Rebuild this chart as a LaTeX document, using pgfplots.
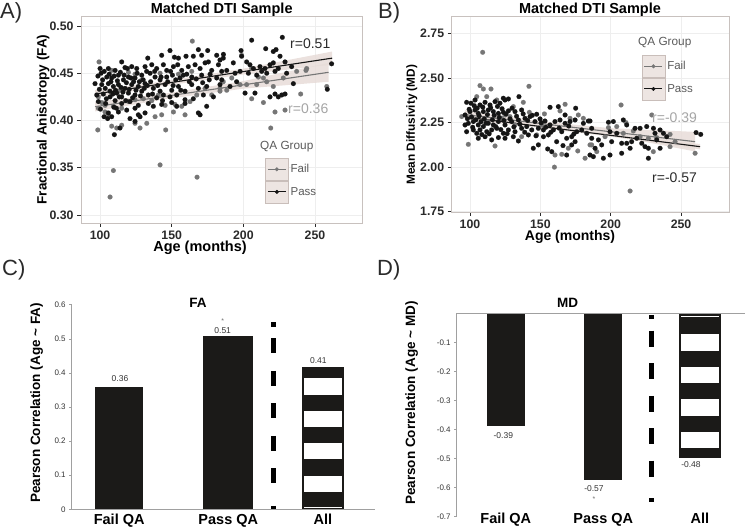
\documentclass[border=0pt]{standalone}
\usepackage{pgfplots}
\pgfplotsset{compat=1.18}
\usepackage{pgfplotstable}
\usepgfplotslibrary{fillbetween}
\usepackage{fontspec}
\setmainfont{Liberation Sans}

\definecolor{passc}{HTML}{151515}
\definecolor{failc}{HTML}{767676}
\definecolor{bandc}{HTML}{E7DCD8}
\definecolor{legbg}{HTML}{EDE5E2}
\definecolor{legfr}{HTML}{C9BEBA}
\definecolor{framec}{HTML}{C8C1BE}
\definecolor{gridc}{HTML}{EEEEEE}
\definecolor{tickc}{HTML}{2A2A2A}
\definecolor{rgray}{HTML}{A5A5A5}
\definecolor{legtxt}{HTML}{5A5A5A}
\definecolor{barc}{HTML}{1B1A18}
\definecolor{axc}{HTML}{A0A0A0}
\definecolor{lblc}{HTML}{333333}

\pgfplotsset{
 scat/.style={scale only axis, axis line style={framec, line width=0.8pt},
  tick style={tickc, line width=0.7pt}, tick align=outside, major tick length=4pt,
  xtick pos=left, ytick pos=left, grid=major, major grid style={gridc, line width=0.7pt},
  tick label style={font=\fontsize{12.3}{14}\selectfont\bfseries, text=tickc},
  /pgf/number format/assume math mode=true,
  xlabel style={font=\fontsize{14.5}{16}\selectfont\bfseries, text=black, anchor=base},
  ylabel style={font=\fontsize{13.5}{15}\selectfont\bfseries, text=black, anchor=center},
  legend cell align=left,
  legend style={draw=none, fill=none, inner sep=0pt, outer sep=0pt, row sep=0pt,
    font=\fontsize{11.5}{13}\selectfont, text=legtxt, anchor=north west,
    nodes={inner sep=2pt}},
 },
 pts/.style={only marks, color=#1, mark=*, mark size=2.4pt, mark options={solid, draw=#1, fill=#1, line width=0.1pt}, forget plot},
 failkey/.style={legend image code/.code={
   \draw[legfr, fill=legbg, line width=0.6pt] (0pt,-11pt) rectangle (23pt,11pt);
   \draw[failc, line width=1pt] (2.5pt,0pt) -- (20.5pt,0pt);
   \fill[failc] (11.5pt,0pt) circle (1.8pt);}},
 passkey/.style={legend image code/.code={
   \draw[legfr, fill=legbg, line width=0.6pt] (0pt,-11pt) rectangle (23pt,11pt);
   \draw[passc, line width=1pt] (2.5pt,0pt) -- (20.5pt,0pt);
   \fill[passc] (11.5pt,0pt) circle (1.8pt);}},
 bars/.style={scale only axis, axis x line*=bottom, axis y line*=left,
   axis line style={axc, line width=0.8pt},
   x tick style={draw=none}, y tick style={axc, line width=0.6pt},
   tick align=outside, major tick length=2.5pt,
   yticklabel style={font=\fontsize{8}{9}\selectfont, text=lblc},
   xticklabel style={font=\fontsize{14.5}{16}\selectfont\bfseries, anchor=base},
   ylabel style={font=\fontsize{13.5}{15}\selectfont\bfseries, anchor=center},
 },
}

% ---------------- Panel A data: Age (months), FA ----------------
\pgfplotstableread{
m v
115.1 0.462
133.3 0.466
143.0 0.469
148.8 0.474
151.9 0.467
154.7 0.466
160.0 0.468
168.6 0.475
165.1 0.468
170.9 0.469
175.1 0.474
175.6 0.462
181.4 0.469
183.7 0.464
186.1 0.470
100.0 0.455
105.8 0.455
110.5 0.453
117.4 0.456
122.1 0.457
125.6 0.455
131.4 0.457
136.1 0.459
139.5 0.455
144.2 0.459
146.5 0.453
151.2 0.457
154.2 0.459
157.0 0.453
161.6 0.457
166.3 0.459
169.8 0.455
173.3 0.461
177.9 0.453
182.6 0.459
100.7 0.450
104.7 0.446
108.1 0.445
112.8 0.448
116.3 0.443
119.8 0.446
124.4 0.445
129.1 0.448
134.9 0.450
138.4 0.446
141.9 0.443
146.5 0.446
150.5 0.448
155.8 0.445
160.5 0.449
164.0 0.446
170.9 0.448
176.8 0.449
181.4 0.445
184.9 0.452
96.5 0.439
101.2 0.438
105.8 0.439
109.3 0.436
112.8 0.438
117.4 0.434
122.1 0.438
126.7 0.436
131.4 0.439
137.2 0.434
141.9 0.431
145.4 0.438
150.0 0.432
154.7 0.436
159.3 0.431
164.0 0.438
168.6 0.434
174.4 0.436
179.1 0.425
183.7 0.438
97.7 0.427
102.3 0.428
107.0 0.425
111.6 0.429
115.1 0.425
119.8 0.429
124.4 0.427
129.1 0.431
133.7 0.427
139.5 0.424
144.2 0.427
148.8 0.425
153.5 0.427
159.3 0.422
165.1 0.423
172.1 0.427
98.8 0.420
103.9 0.418
110.5 0.421
115.1 0.418
120.9 0.420
126.7 0.416
133.7 0.418
137.2 0.415
143.0 0.417
150.0 0.419
153.5 0.415
159.3 0.418
174.4 0.415
105.8 0.408
108.1 0.404
112.8 0.409
118.6 0.411
124.4 0.413
126.7 0.406
131.4 0.408
168.6 0.408
169.8 0.406
105.3 0.402
110.0 0.385
113.9 0.392
120.9 0.402
124.4 0.399
127.9 0.404
98.5 0.447
99.5 0.433
101.8 0.443
102.9 0.452
103.6 0.434
104.4 0.423
106.4 0.449
106.9 0.431
107.6 0.441
108.9 0.428
109.8 0.447
110.8 0.432
111.4 0.413
112.1 0.442
113.4 0.425
114.2 0.451
114.6 0.435
116.0 0.430
116.8 0.448
117.9 0.421
118.4 0.440
119.1 0.455
120.3 0.433
121.5 0.445
122.7 0.424
123.4 0.441
125.1 0.432
125.9 0.450
127.4 0.441
128.2 0.426
130.1 0.443
130.9 0.434
132.5 0.452
133.0 0.437
135.3 0.441
136.6 0.428
138.1 0.452
140.2 0.437
142.6 0.446
143.6 0.421
147.2 0.441
149.2 0.452
151.0 0.437
152.8 0.443
156.3 0.432
158.1 0.448
162.3 0.441
167.1 0.444
171.6 0.440
176.2 0.443
100.3 0.412
102.8 0.404
109.7 0.414
205.8 0.485
227.2 0.488
198.4 0.474
215.6 0.476
222.8 0.475
225.6 0.468
220.9 0.473
186.0 0.466
193.0 0.461
198.8 0.468
202.3 0.462
204.6 0.459
207.0 0.455
211.6 0.457
215.1 0.455
218.6 0.459
220.9 0.461
224.4 0.455
229.1 0.462
233.7 0.457
188.4 0.453
194.2 0.450
197.7 0.452
203.5 0.450
209.3 0.448
212.8 0.452
216.3 0.450
222.1 0.452
230.2 0.450
234.9 0.439
201.2 0.429
208.1 0.429
218.6 0.425
222.1 0.428
224.4 0.425
226.8 0.427
229.1 0.428
261.6 0.460
258.6 0.433
184.9 0.443
190.7 0.436
195.3 0.441
}\apass

\pgfplotstableread{
m v
99.3 0.462
108.1 0.453
119.8 0.451
124.4 0.449
129.1 0.443
141.9 0.450
154.7 0.449
164.0 0.452
98.8 0.413
103.5 0.416
109.3 0.415
115.1 0.413
119.8 0.420
124.4 0.422
130.2 0.423
136.1 0.421
140.7 0.427
145.4 0.416
152.3 0.417
157.0 0.415
162.8 0.420
167.5 0.427
173.3 0.434
177.9 0.427
183.7 0.431
112.8 0.431
98.8 0.425
103.5 0.409
105.8 0.406
108.1 0.394
111.6 0.392
115.1 0.395
124.4 0.397
127.9 0.392
132.6 0.397
138.4 0.404
143.0 0.406
159.3 0.406
98.4 0.390
109.3 0.347
107.0 0.319
141.9 0.353
167.7 0.340
145.8 0.390
164.4 0.484
151.2 0.409
101.2 0.419
198.8 0.469
210.5 0.446
205.8 0.455
214.0 0.445
191.9 0.445
202.3 0.438
197.7 0.438
209.3 0.438
216.3 0.441
220.9 0.436
227.9 0.445
237.2 0.452
243.7 0.453
205.8 0.423
214.0 0.419
222.1 0.409
219.1 0.392
240.0 0.428
188.4 0.432
183.7 0.434
258.2 0.436
244.2 0.455
186.0 0.441
229.1 0.411
}\afail

% ---------------- Panel B data: Age (months), MD ----------------
\pgfplotstableread{
m v
97.6 2.364
100.7 2.359
103.6 2.377
107.1 2.349
110.7 2.364
114.2 2.349
117.8 2.368
121.3 2.359
124.9 2.377
127.3 2.383
123.7 2.387
134.8 2.396
96.5 2.293
100.0 2.312
103.6 2.321
105.9 2.302
109.5 2.312
113.0 2.321
116.6 2.312
120.2 2.302
123.7 2.308
127.3 2.316
132.0 2.312
136.7 2.321
96.5 2.237
98.8 2.246
102.4 2.256
105.9 2.237
109.5 2.228
113.0 2.246
116.6 2.237
120.2 2.256
124.9 2.237
129.6 2.256
134.4 2.265
139.1 2.274
142.7 2.284
146.2 2.256
149.8 2.271
153.3 2.259
147.4 2.297
97.6 2.199
102.4 2.209
104.8 2.190
107.1 2.209
111.9 2.199
115.4 2.209
119.0 2.218
123.7 2.190
127.3 2.209
132.0 2.199
136.7 2.218
140.3 2.228
143.9 2.209
148.6 2.218
152.2 2.209
156.9 2.237
160.4 2.256
164.0 2.265
167.6 2.246
171.1 2.256
174.7 2.265
180.6 2.246
184.1 2.259
105.9 2.162
110.7 2.171
115.4 2.153
120.2 2.166
124.9 2.162
130.8 2.171
134.4 2.147
141.5 2.181
145.0 2.106
148.6 2.125
152.2 2.171
155.7 2.181
159.3 2.209
161.6 2.143
165.2 2.199
168.7 2.162
172.3 2.171
175.9 2.199
179.4 2.209
183.0 2.190
186.5 2.218
174.7 2.143
172.3 2.125
155.2 2.102
158.1 2.087
168.7 2.068
187.7 2.059
156.9 2.336
162.8 2.340
175.1 2.331
167.6 2.293
98.2 2.272
99.4 2.325
101.1 2.281
101.9 2.224
103.0 2.345
104.2 2.266
105.1 2.331
106.5 2.288
107.8 2.255
108.4 2.183
109.1 2.337
110.2 2.271
111.3 2.246
112.4 2.295
113.6 2.187
114.7 2.333
115.9 2.266
117.2 2.291
118.3 2.228
119.5 2.341
120.8 2.279
121.9 2.211
122.8 2.328
124.1 2.262
125.6 2.299
126.4 2.188
128.5 2.271
129.9 2.331
131.2 2.226
133.1 2.286
135.5 2.241
137.8 2.299
138.9 2.196
141.0 2.262
144.3 2.291
146.9 2.176
150.6 2.249
153.9 2.224
157.4 2.196
163.4 2.219
166.1 2.121
170.2 2.231
173.8 2.186
185.3 2.259
198.4 2.252
201.9 2.256
209.0 2.265
211.4 2.237
217.3 2.218
220.9 2.218
225.6 2.228
230.4 2.218
235.1 2.209
237.5 2.190
231.5 2.190
199.5 2.199
204.3 2.190
207.8 2.134
211.4 2.134
214.9 2.143
218.5 2.162
222.1 2.134
224.4 2.115
232.7 2.153
239.8 2.171
186.5 2.162
191.3 2.153
193.6 2.125
200.7 2.143
194.8 2.050
199.5 2.068
207.8 2.078
213.8 2.106
226.8 2.050
260.7 2.194
264.0 2.184
185.3 2.068
188.9 2.106
226.8 2.106
235.1 2.106
}\bpass

\pgfplotstableread{
m v
109.0 2.645
107.1 2.458
109.5 2.439
114.9 2.439
141.9 2.454
104.8 2.396
111.9 2.396
119.0 2.377
130.8 2.340
137.9 2.364
142.2 2.308
128.4 2.284
122.5 2.274
101.2 2.284
94.1 2.284
98.8 2.128
117.8 2.119
152.9 2.299
164.0 2.316
167.6 2.353
171.1 2.274
177.0 2.293
180.6 2.274
160.4 2.068
165.2 2.072
160.0 2.000
169.9 2.106
176.6 2.091
181.8 2.050
185.3 2.125
111.9 2.256
132.0 2.237
147.4 2.181
151.0 2.237
136.7 2.171
124.9 2.293
207.4 2.349
210.9 2.250
229.2 2.293
198.4 2.222
209.0 2.190
216.1 2.203
226.8 2.162
232.7 2.166
242.2 2.115
260.0 2.078
213.8 1.866
242.2 2.184
190.1 2.087
186.5 2.125
196.0 2.171
220.9 2.171
204.3 2.228
245.8 2.143
230.3 2.087
}\bfail

\begin{document}
\begin{tikzpicture}[x=1pt,y=1pt]

% ================= Panel A =================
\begin{axis}[scat, at={(81pt,304pt)}, anchor=south west, width=281pt, height=207pt,
  xmin=86.7, xmax=282.8, ymin=0.2915, ymax=0.5106,
  xtick={100,150,200,250}, ytick={0.30,0.35,0.40,0.45,0.50},
  yticklabel style={/pgf/number format/.cd, fixed, fixed zerofill, precision=2},
  xlabel={Age (months)}, xlabel style={at={(axis description cs:0.4235,-0.140)}},
  ylabel={Fractional Anisotropy (FA)}, ylabel style={at={(axis description cs:-0.135,0.5)}},
  legend style={at={(0.655,0.314)}},
]
\addplot[pts=failc] table[x=m,y=v]{\afail};
\addplot[pts=passc] table[x=m,y=v]{\apass};
\addplot[name path=apu, draw=none, forget plot] coordinates {(96.5,0.432)(140,0.4405)(200,0.4549)(262,0.473)};
\addplot[name path=apl, draw=none, forget plot] coordinates {(96.5,0.424)(140,0.4355)(200,0.4487)(262,0.459)};
\addplot[bandc, fill opacity=0.85, forget plot] fill between[of=apu and apl];
\addplot[name path=afu, draw=none, forget plot] coordinates {(96.5,0.4196)(145,0.4284)(200,0.4417)(259.5,0.461)};
\addplot[name path=afl, draw=none, forget plot] coordinates {(96.5,0.4096)(145,0.4224)(200,0.4337)(259.5,0.441)};
\addplot[bandc, fill opacity=0.85, forget plot] fill between[of=afu and afl];
\addplot[failc, line width=1.1pt, forget plot] coordinates {(96.5,0.4146)(259.5,0.451)};
\addplot[passc, line width=1.1pt, forget plot] coordinates {(96.5,0.428)(262,0.466)};
\addlegendimage{failkey}\addlegendentry{Fail}
\addlegendimage{passkey}\addlegendentry{Pass}
\end{axis}

% ================= Panel B =================
\begin{axis}[scat, at={(451.7pt,315pt)}, anchor=south west, width=277.3pt, height=196pt,
  xmin=87.0, xmax=284.1, ymin=1.748, ymax=2.849,
  xtick={100,150,200,250}, ytick={1.75,2.00,2.25,2.50,2.75},
  yticklabel style={/pgf/number format/.cd, fixed, fixed zerofill, precision=2},
  xlabel={Age (months)}, xlabel style={at={(axis description cs:0.4266,-0.145)}, font=\fontsize{14}{16}\selectfont\bfseries},
  ylabel={Mean Diffusivity (MD)}, ylabel style={at={(axis description cs:-0.144,0.445)}, font=\fontsize{11.8}{13}\selectfont\bfseries},
  legend style={at={(0.685,0.801)}},
]
\addplot[pts=failc] table[x=m,y=v]{\bfail};
\addplot[pts=passc] table[x=m,y=v]{\bpass};
\addplot[name path=bfu, draw=none, forget plot] coordinates {(96.4,2.320)(150,2.257)(200,2.219)(260,2.198)};
\addplot[name path=bfl, draw=none, forget plot] coordinates {(96.4,2.270)(150,2.233)(200,2.179)(260,2.088)};
\addplot[bandc, fill opacity=0.85, forget plot] fill between[of=bfu and bfl];
\addplot[name path=bpu, draw=none, forget plot] coordinates {(96.4,2.297)(150,2.236)(200,2.187)(263.5,2.130)};
\addplot[name path=bpl, draw=none, forget plot] coordinates {(96.4,2.267)(150,2.220)(200,2.171)(263.5,2.100)};
\addplot[bandc, fill opacity=0.85, forget plot] fill between[of=bpu and bpl];
\addplot[failc, line width=1.1pt, forget plot] coordinates {(96.4,2.295)(260,2.143)};
\addplot[passc, line width=1.1pt, forget plot] coordinates {(96.4,2.282)(263.5,2.115)};
\addlegendimage{failkey}\addlegendentry{Fail}
\addlegendimage{passkey}\addlegendentry{Pass}
\end{axis}

% ================= Panel C =================
\begin{axis}[bars, at={(71.7pt,17.7pt)}, anchor=south west, width=303.3pt, height=204.6pt,
  xmin=71.7, xmax=375, ymin=0, ymax=0.6,
  ytick={0,0.1,0.2,0.3,0.4,0.5,0.6}, yticklabels={0,0.1,0.2,0.3,0.4,0.5,0.6},
  xtick={119.2,228.3,323}, xticklabels={Fail QA,Pass QA,All},
  xticklabel style={yshift=-12.5pt},
  ylabel={Pearson Correlation (Age \textasciitilde{} FA)},
  ylabel style={at={(axis description cs:-0.1154,0.52)}},
  clip=false,
]
\addplot[ybar, bar width=48.3, bar shift=0pt, fill=barc, draw=none, forget plot] coordinates {(119.2,0.36)};
\addplot[ybar, bar width=50, bar shift=0pt, fill=barc, draw=none, forget plot] coordinates {(228.3,0.509)};
\addplot[ybar, bar width=42.6, bar shift=0pt, fill=barc, draw=none, forget plot] coordinates {(323,0.418)};
\addplot[fill=white, draw=none, forget plot] coordinates {(304.3,0.3843)(342.3,0.3843)(342.3,0.3353)(304.3,0.3353)};
\addplot[fill=white, draw=none, forget plot] coordinates {(304.3,0.2892)(342.3,0.2892)(342.3,0.2423)(304.3,0.2423)};
\addplot[fill=white, draw=none, forget plot] coordinates {(304.3,0.1936)(342.3,0.1936)(342.3,0.1467)(304.3,0.1467)};
\addplot[fill=white, draw=none, forget plot] coordinates {(304.3,0.0986)(342.3,0.0986)(342.3,0.0516)(304.3,0.0516)};
\addplot[fill=white, draw=none, forget plot] coordinates {(304.3,0.0058)(342.3,0.0058)(342.3,0.0028)(304.3,0.0028)};
\addplot[black, line width=4.8pt, unbounded coords=jump, forget plot] coordinates {
 (273.3,0.5486)(273.3,0.5356)(273.3,nan)
 (273.3,0.5016)(273.3,0.4576)(273.3,nan)
 (273.3,0.4057)(273.3,0.3617)(273.3,nan)
 (273.3,0.3109)(273.3,0.2669)(273.3,nan)
 (273.3,0.2150)(273.3,0.1710)(273.3,nan)
 (273.3,0.1203)(273.3,0.0763)(273.3,nan)
 (273.3,0.0097)(273.3,0.0)};
\node[font=\fontsize{8.5}{9}\selectfont, text=lblc] at (axis cs:120,0.384) {0.36};
\node[font=\fontsize{8.5}{9}\selectfont, text=lblc] at (axis cs:222.7,0.523) {0.51};
\node[font=\fontsize{7}{8}\selectfont, text=lblc!70] at (axis cs:222.7,0.552) {*};
\node[font=\fontsize{8.5}{9}\selectfont, text=lblc] at (axis cs:318.3,0.436) {0.41};
\end{axis}

% ================= Panel D =================
\begin{axis}[bars, at={(456.7pt,10.3pt)}, anchor=south west, width=288.3pt, height=203.4pt,
  xmin=456.7, xmax=745, ymin=-0.7, ymax=0,
  x axis line style={draw=none},
  ytick={-0.7,-0.6,-0.5,-0.4,-0.3,-0.2,-0.1}, yticklabels={-0.7,-0.6,-0.5,-0.4,-0.3,-0.2,-0.1},
  xtick={505.8,603.3,700}, xticklabels={Fail QA,Pass QA,All},
  xticklabel style={yshift=-4.3pt},
  ylabel={Pearson Correlation (Age \textasciitilde{} MD)},
  ylabel style={at={(axis description cs:-0.156,0.559)}},
  clip=false,
]
\addplot[ybar, bar width=38.3, bar shift=0pt, fill=barc, draw=none, forget plot] coordinates {(505.8,-0.388)};
\addplot[ybar, bar width=38, bar shift=0pt, fill=barc, draw=none, forget plot] coordinates {(603.3,-0.574)};
\addplot[ybar, bar width=42, bar shift=0pt, fill=barc, draw=none, forget plot] coordinates {(700,-0.497)};
\addplot[fill=white, draw=none, forget plot] coordinates {(681,-0.0103)(719,-0.0103)(719,-0.0133)(681,-0.0133)};
\addplot[fill=white, draw=none, forget plot] coordinates {(681,-0.0723)(719,-0.0723)(719,-0.1297)(681,-0.1297)};
\addplot[fill=white, draw=none, forget plot] coordinates {(681,-0.1838)(719,-0.1838)(719,-0.2409)(681,-0.2409)};
\addplot[fill=white, draw=none, forget plot] coordinates {(681,-0.2949)(719,-0.2949)(719,-0.3524)(681,-0.3524)};
\addplot[fill=white, draw=none, forget plot] coordinates {(681,-0.4074)(719,-0.4074)(719,-0.4646)(681,-0.4646)};
\addplot[black, line width=4.8pt, unbounded coords=jump, forget plot] coordinates {
 (651.7,-0.0058)(651.7,-0.0206)(651.7,nan)
 (651.7,-0.0599)(651.7,-0.1149)(651.7,nan)
 (651.7,-0.1721)(651.7,-0.2271)(651.7,nan)
 (651.7,-0.2846)(651.7,-0.3386)(651.7,nan)
 (651.7,-0.3957)(651.7,-0.4498)(651.7,nan)
 (651.7,-0.5072)(651.7,-0.5623)(651.7,nan)
 (651.7,-0.6366)(651.7,-0.6504)};
\addplot[axc, line width=0.8pt, forget plot] coordinates {(456.7,0)(745,0)};
\node[font=\fontsize{8.5}{9}\selectfont, text=lblc] at (axis cs:503.3,-0.421) {-0.39};
\node[font=\fontsize{8.5}{9}\selectfont, text=lblc] at (axis cs:594,-0.602) {-0.57};
\node[font=\fontsize{7}{8}\selectfont, text=lblc!70] at (axis cs:594,-0.638) {*};
\node[font=\fontsize{8.5}{9}\selectfont, text=lblc] at (axis cs:691,-0.522) {-0.48};
\end{axis}

% ================= Annotations =================
\node[anchor=center, font=\fontsize{14.5}{16}\selectfont\bfseries] at (221.7,517.7) {Matched DTI Sample};
\node[anchor=center, font=\fontsize{14.5}{16}\selectfont\bfseries] at (590,517.7) {Matched DTI Sample};
\node[anchor=west, font=\fontsize{22}{24}\selectfont, text=tickc, inner sep=0pt] at (0,514) {A)};
\node[anchor=west, font=\fontsize{22}{24}\selectfont, text=tickc, inner sep=0pt] at (378,514) {B)};
\node[anchor=west, font=\fontsize{22}{24}\selectfont, text=tickc, inner sep=0pt] at (2,257) {C)};
\node[anchor=west, font=\fontsize{22}{24}\selectfont, text=tickc, inner sep=0pt] at (377,257) {D)};
\node[anchor=center, font=\fontsize{13.5}{15}\selectfont\bfseries] at (198,223.7) {FA};
\node[anchor=center, font=\fontsize{13.5}{15}\selectfont\bfseries] at (567.7,223.7) {MD};
\node[anchor=west, font=\fontsize{14}{16}\selectfont, text=tickc, inner sep=0pt] at (290,483) {r=0.51};
\node[anchor=west, font=\fontsize{14}{16}\selectfont, text=rgray, inner sep=0pt] at (288,418) {r=0.36};
\node[anchor=west, font=\fontsize{14}{16}\selectfont, text=rgray, inner sep=0pt] at (652,409) {r=-0.39};
\node[anchor=west, font=\fontsize{14}{16}\selectfont, text=tickc, inner sep=0pt] at (652,349) {r=-0.57};
\node[anchor=west, font=\fontsize{11.8}{13}\selectfont, text=legtxt, inner sep=0pt] at (260,380) {QA Group};
\node[anchor=west, font=\fontsize{11.8}{13}\selectfont, text=legtxt, inner sep=0pt] at (638,484) {QA Group};

\pgfresetboundingbox
\useasboundingbox (0,0) rectangle (750,527);
\end{tikzpicture}
\end{document}
